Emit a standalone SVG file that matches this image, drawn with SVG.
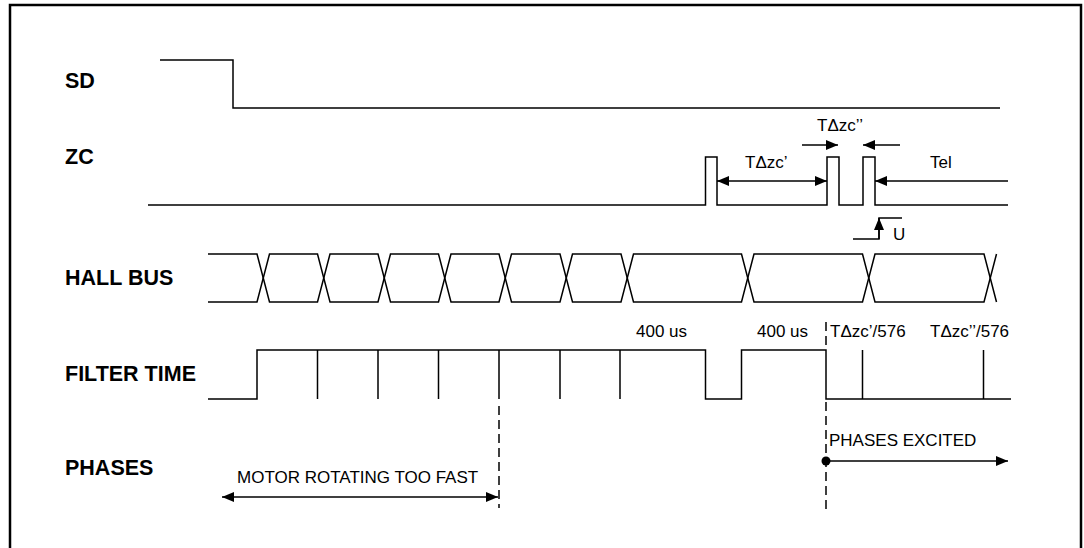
<svg xmlns="http://www.w3.org/2000/svg" width="1084" height="548" viewBox="0 0 1084 548">
<style>
.sig{fill:none;stroke:#000;stroke-width:1.5}
.dash{fill:none;stroke:#000;stroke-width:1.5;stroke-dasharray:9 5}
.lbl{font-family:"Liberation Sans",Arial,sans-serif;font-weight:bold;font-size:21.5px;fill:#000}
.txt{font-family:"Liberation Sans",Arial,sans-serif;font-size:17px;fill:#000}
</style>
<defs>
<marker id="ah" viewBox="0 0 12 10" refX="12" refY="5" markerWidth="12" markerHeight="10" markerUnits="userSpaceOnUse" orient="auto-start-reverse">
<path d="M0,0 L12,5 L0,10 Z" fill="#000"/>
</marker>
</defs>
<rect x="10" y="5" width="1071" height="560" fill="#fff" stroke="#000" stroke-width="2.5"/>
<g id="labels">
<text class="lbl" x="65" y="88">SD</text>
<text class="lbl" x="65" y="164">ZC</text>
<text class="lbl" x="65" y="285">HALL BUS</text>
<text class="lbl" x="65" y="381">FILTER TIME</text>
<text class="lbl" x="65" y="475">PHASES</text>
</g>
<g id="sd">
<path class="sig" d="M160,60 H233 V108 H1000"/>
</g>
<g id="zc">
<path class="sig" d="M148,205 H705.5 V157 H717 V205 H827 V157 H839 V205 H863 V157 H875 V205 H1008"/>
</g>
<g id="hallbus">
<path class="sig" d="M208,254 H257 L269.5,302 H317.5 L330,254 H378 L390.5,302 H438.5 L451,254 H499 L511.5,302 H560 L572.5,254 H621 L633.5,302 H741.5 L754,254 H862.5 L875,302 H984 L996.5,254"/>
<path class="sig" d="M208,302 H257 L269.5,254 H317.5 L330,302 H378 L390.5,254 H438.5 L451,302 H499 L511.5,254 H560 L572.5,302 H621 L633.5,254 H741.5 L754,302 H862.5 L875,254 H984 L996.5,302"/>
</g>
<g id="filtertime">
<path class="sig" d="M208,399 H257 V350 H705.5 V399 H741.5 V350 H826 V399 H1011"/>
<path class="sig" d="M317.5,350 V399 M378,350 V399 M438.5,350 V399 M499,350 V399 M560,350 V399 M620,350 V399 M862.5,350 V399 M983.5,350 V399"/>
<text class="txt" x="636" y="337">400 us</text>
<text class="txt" x="757" y="337">400 us</text>
<text class="txt" x="830" y="337">TΔzc’/576</text>
<text class="txt" x="930" y="337">TΔzc’’/576</text>
</g>
<g id="phases">
<circle cx="826" cy="461" r="4.5" fill="#000"/>
<text class="txt" x="237" y="483">MOTOR ROTATING TOO FAST</text>
<text class="txt" x="829" y="446">PHASES EXCITED</text>
</g>
<g id="connectors">
<path class="dash" d="M499,406 V508"/>
<path class="dash" d="M826,322 V350 M826,402 V510"/>
<line class="sig" x1="717" y1="181" x2="827" y2="181" marker-start="url(#ah)" marker-end="url(#ah)"/>
<line class="sig" x1="1008" y1="181" x2="875" y2="181" marker-end="url(#ah)"/>
<line class="sig" x1="802" y1="145" x2="838" y2="145" marker-end="url(#ah)"/>
<line class="sig" x1="900" y1="145" x2="863" y2="145" marker-end="url(#ah)"/>
<path class="sig" d="M853,239 H879 V218 H902"/>
<line class="sig" x1="879" y1="239" x2="879" y2="218" marker-end="url(#ah)"/>
<line class="sig" x1="222" y1="497" x2="498" y2="497" marker-start="url(#ah)" marker-end="url(#ah)"/>
<line class="sig" x1="826" y1="461" x2="1008" y2="461" marker-end="url(#ah)"/>
<text class="txt" x="745" y="168">TΔzc’</text>
<text class="txt" x="817" y="131">TΔzc’’</text>
<text class="txt" x="930" y="168">Tel</text>
<text class="txt" x="893" y="240">U</text>
</g>
</svg>
